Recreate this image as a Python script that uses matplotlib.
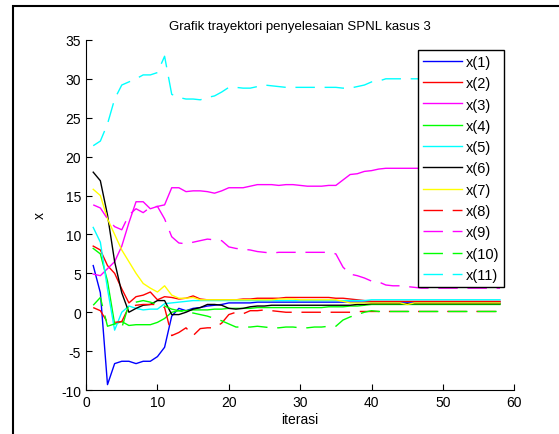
import matplotlib.pyplot as plt
from matplotlib.patches import Rectangle

plt.rcParams['font.family'] = ['Liberation Sans', 'DejaVu Sans']
plt.rcParams['axes.unicode_minus'] = False

iterasi = list(range(1, 59))

x1 = [6.0, 2.5, -9.3, -6.6, -6.3, -6.3, -6.6, -6.3, -6.3, -5.7, -4.5, -0.5, 0.5, 0.2, 0.5,
      0.6, 0.8, 0.9, 1.0, 1.2, 1.2, 1.2, 1.2, 1.3, 1.3, 1.3, 1.3, 1.3, 1.3, 1.3,
      1.3, 1.3, 1.3, 1.3, 1.3, 1.3, 1.3, 1.3, 1.3, 1.3, 1.3, 1.3, 1.3, 1.3, 1.3,
      1.3, 1.3, 1.3, 1.3, 1.3, 1.3, 1.3, 1.3, 1.3, 1.3, 1.3, 1.3, 1.3]
x2 = [8.5, 8.0, 6.0, 5.0, 3.0, 1.2, 2.0, 2.2, 2.6, 1.6, 2.0, 1.9, 1.7, 1.8, 2.1,
      1.7, 1.6, 1.6, 1.6, 1.6, 1.6, 1.7, 1.7, 1.8, 1.8, 1.8, 1.8, 1.9, 1.9, 1.9,
      1.9, 1.9, 1.9, 1.9, 1.8, 1.8, 1.7, 1.6, 1.5, 1.4, 1.4, 1.4, 1.4, 1.4, 1.4,
      1.4, 1.4, 1.4, 1.4, 1.4, 1.4, 1.4, 1.4, 1.4, 1.4, 1.4, 1.4, 1.4]
x3 = [4.9, 4.7, 5.6, 6.5, 8.5, 11.5, 14.2, 14.2, 13.3, 13.6, 13.8, 16.0, 16.0, 15.5, 15.6,
      15.6, 15.5, 15.3, 15.6, 16.0, 16.0, 16.0, 16.2, 16.4, 16.4, 16.4, 16.3, 16.4, 16.4, 16.3,
      16.2, 16.2, 16.2, 16.3, 16.3, 17.0, 17.7, 17.8, 18.1, 18.2, 18.4, 18.5, 18.5, 18.5, 18.5,
      18.5, 18.5, 18.5, 18.5, 18.5, 18.5, 18.5, 18.5, 18.5, 18.5, 18.5, 18.5, 18.5]
x4 = [8.2, 7.5, 4.0, -1.5, -1.2, -1.7, -1.6, -1.6, -1.6, -1.3, -0.8, 0.0, 0.2, 0.2, 0.3,
      0.3, 0.3, 0.4, 0.4, 0.5, 0.5, 0.5, 0.5, 0.6, 0.6, 0.6, 0.6, 0.6, 0.6, 0.6,
      0.6, 0.6, 0.6, 0.7, 0.7, 0.7, 0.8, 0.8, 0.9, 1.0, 1.0, 1.0, 1.0, 1.0, 1.0,
      1.0, 1.0, 1.0, 1.0, 1.0, 1.0, 1.0, 1.0, 1.0, 1.0, 1.0, 1.0, 1.0]
x5 = [10.9, 9.0, 3.0, -2.3, 0.0, 0.8, 0.5, 0.3, 0.4, 0.4, 1.1, 1.2, 1.3, 1.4, 1.5,
      1.5, 1.5, 1.5, 1.5, 1.5, 1.5, 1.5, 1.5, 1.5, 1.5, 1.5, 1.5, 1.5, 1.5, 1.5,
      1.5, 1.5, 1.5, 1.5, 1.5, 1.5, 1.5, 1.5, 1.5, 1.6, 1.6, 1.6, 1.6, 1.6, 1.6,
      1.6, 1.6, 1.6, 1.6, 1.6, 1.6, 1.6, 1.6, 1.6, 1.6, 1.6, 1.6, 1.6]
x6 = [18.0, 16.9, 12.5, 6.5, 2.5, 0.0, 0.5, 0.9, 1.0, 1.5, 1.5, -0.3, -0.3, 0.0, 0.4,
      0.6, 1.0, 1.0, 0.9, 0.5, 0.4, 0.5, 0.7, 0.8, 0.8, 0.9, 0.9, 0.9, 0.9, 0.9,
      0.9, 0.9, 0.9, 0.9, 0.9, 0.9, 0.9, 1.0, 1.0, 1.1, 1.1, 1.1, 1.1, 1.1, 1.1,
      1.1, 1.1, 1.1, 1.1, 1.1, 1.1, 1.1, 1.1, 1.1, 1.1, 1.1, 1.1, 1.1]
x7 = [15.8, 15.0, 12.0, 10.0, 8.0, 6.5, 5.0, 3.7, 3.1, 2.6, 3.4, 2.2, 1.8, 1.8, 1.9,
      1.6, 1.6, 1.6, 1.6, 1.6, 1.6, 1.6, 1.6, 1.6, 1.6, 1.6, 1.7, 1.7, 1.7, 1.6,
      1.6, 1.6, 1.6, 1.6, 1.6, 1.4, 1.2, 1.2, 1.2, 1.2, 1.2, 1.2, 1.2, 1.2, 1.0,
      1.2, 1.2, 1.2, 1.2, 1.2, 1.2, 1.2, 1.2, 1.2, 1.2, 1.2, 1.2, 1.2]
x8 = [0.6, 0.2, -1.3, -1.3, -1.2, 0.7, 0.9, 1.0, 1.0, 1.0, 0.6, -3.0, -2.6, -2.0, -3.0,
      -2.1, -2.0, -2.0, -1.4, -0.3, 0.0, -0.2, 0.2, 0.2, 0.3, 0.2, 0.1, 0.0, 0.0, 0.0,
      0.0, 0.0, 0.0, 0.0, 0.0, 0.0, 0.0, 0.1, 0.1, 0.1, 0.1, 0.1, 0.1, 0.1, 0.1,
      0.1, 0.1, 0.1, 0.1, 0.1, 0.1, 0.1, 0.1, 0.1, 0.1, 0.1, 0.1, 0.1]
x9 = [13.8, 13.4, 12.0, 11.0, 10.6, 12.5, 13.3, 12.8, 13.5, 13.6, 12.0, 9.7, 8.9, 8.8, 9.0,
      9.2, 9.4, 9.3, 9.2, 8.4, 8.2, 8.1, 8.0, 7.8, 7.7, 7.6, 7.7, 7.7, 7.7, 7.7,
      7.7, 7.7, 7.7, 7.7, 7.5, 5.8, 4.9, 4.7, 4.4, 4.0, 3.9, 3.5, 3.4, 3.4, 3.3,
      3.2, 3.1, 3.1, 3.1, 3.1, 3.1, 3.1, 3.1, 3.1, 3.1, 3.1, 3.1, 3.1]
x10 = [0.9, 1.9, -1.8, -1.5, -2.0, 1.0, 1.3, 1.5, 1.3, 1.0, 0.8, 0.4, 0.2, 0.0, -0.1,
       -0.3, -0.5, -0.8, -1.1, -1.5, -1.9, -1.9, -1.9, -1.8, -1.9, -2.0, -2.0, -1.9, -1.9, -2.0,
       -2.0, -1.9, -1.9, -1.8, -1.8, -1.0, -0.6, -0.3, 0.0, 0.2, 0.1, 0.1, 0.1, 0.1, 0.1,
       0.1, 0.1, 0.1, 0.1, 0.1, 0.1, 0.1, 0.1, 0.1, 0.1, 0.1, 0.1, 0.1]
x11 = [21.4, 22.0, 24.2, 27.4, 29.2, 29.6, 30.0, 30.5, 30.5, 30.8, 32.9, 28.0, 27.6, 27.4, 27.4,
       27.3, 27.6, 27.8, 28.3, 28.9, 28.9, 28.8, 28.8, 29.0, 29.2, 29.1, 29.0, 28.9, 28.9, 28.9,
       28.9, 28.9, 28.9, 28.9, 28.9, 28.8, 28.8, 29.0, 29.2, 29.6, 29.7, 30.0, 30.0, 30.0, 30.0,
       30.0, 30.0, 30.0, 30.0, 30.0, 30.0, 30.0, 30.0, 30.0, 30.0, 30.0, 30.0, 30.0]

fig = plt.figure(figsize=(5.59, 4.35), dpi=100)
ax = fig.add_axes([0.154, 0.101, 0.766, 0.805])

dash = (0, (14, 7))
# solid lines x(1)..x(7), dashed x(8)..x(11)
ax.plot(iterasi, x1, color='#0000ff', lw=1, label='x(1)')
ax.plot(iterasi, x2, color='#ff0000', lw=1, label='x(2)')
ax.plot(iterasi, x3, color='#ff00ff', lw=1, label='x(3)')
ax.plot(iterasi, x4, color='#00ff00', lw=1, label='x(4)')
ax.plot(iterasi, x5, color='#00ffff', lw=1, label='x(5)')
ax.plot(iterasi, x6, color='#000000', lw=1, label='x(6)')
ax.plot(iterasi, x7, color='#ffff00', lw=1, label='x(7)')
ax.plot(iterasi, x8, color='#ff0000', lw=1, ls=dash, label='x(8)')
ax.plot(iterasi, x9, color='#ff00ff', lw=1, ls=dash, label='x(9)')
ax.plot(iterasi, x10, color='#00ff00', lw=1, ls=dash, label='x(10)')
ax.plot(iterasi, x11, color='#00ffff', lw=1, ls=dash, label='x(11)')

ax.set_xlim(0, 60)
ax.set_ylim(-10, 35)
ax.set_xticks(range(0, 61, 10))
ax.set_yticks(range(-10, 36, 5))
ax.spines['top'].set_visible(False)
ax.spines['right'].set_visible(False)
ax.tick_params(direction='in', length=4, labelsize=10)

ax.set_title('Grafik trayektori penyelesaian SPNL kasus 3', fontsize=9.5, pad=8)
ax.set_xlabel('iterasi', fontsize=10, labelpad=2)
ax.set_ylabel('x', fontsize=10, labelpad=10)

leg = ax.legend(loc='upper right', fontsize=10.5, handlelength=2.7, handletextpad=0.25,
                fancybox=False, edgecolor='k', framealpha=1, borderaxespad=0,
                labelspacing=0.5, borderpad=0.35,
                bbox_to_anchor=((504 - 86) / 428, (391 - 51) / 350))
leg.get_frame().set_linewidth(1.0)

fig.patches.append(Rectangle((13 / 559, -0.1), 1.2, 1.1 - 7 / 435, transform=fig.transFigure,
                             fill=False, edgecolor='k', lw=1.5))

fig.savefig('out.png', dpi=100)
